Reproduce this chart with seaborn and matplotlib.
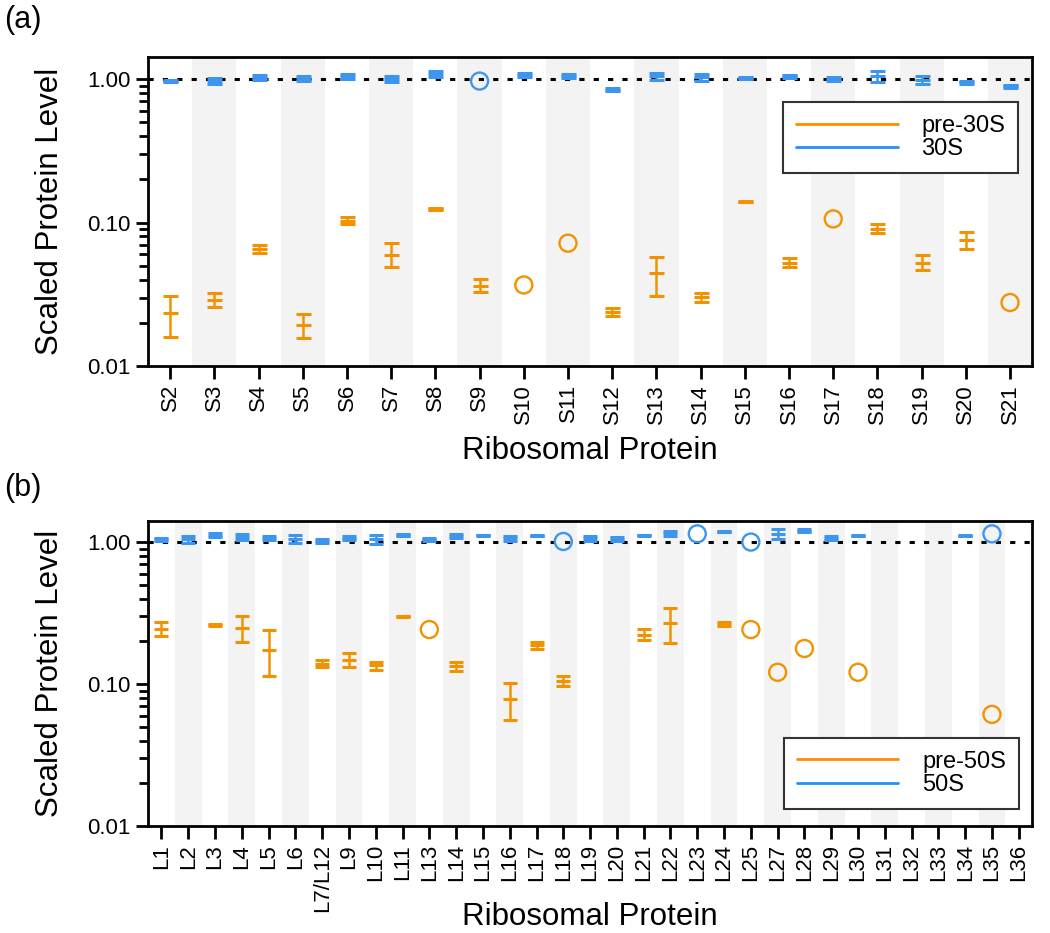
import numpy as np
import matplotlib
matplotlib.use('Agg')
import matplotlib.pyplot as plt
from matplotlib.lines import Line2D
from matplotlib.ticker import FuncFormatter, NullFormatter, FixedLocator
import seaborn as sns

nan = np.nan

## data ##

# (a) small subunit proteins
s_proteins = ['S2', 'S3', 'S4', 'S5', 'S6', 'S7', 'S8', 'S9', 'S10', 'S11',
              'S12', 'S13', 'S14', 'S15', 'S16', 'S17', 'S18', 'S19', 'S20', 'S21']

pre30_mean = [0.0233, 0.0289, 0.0655, 0.0193, 0.103, 0.0595, 0.1245, 0.0363, 0.0367, 0.0718,
              0.0237, 0.0443, 0.0301, 0.140, 0.0526, 0.106, 0.0908, 0.0526, 0.0757, 0.0277]
pre30_lo = [0.0160, 0.0259, 0.0618, 0.0158, 0.098, 0.0488, 0.122, 0.0328, nan, nan,
            0.0223, 0.0308, 0.0281, 0.139, 0.0486, nan, 0.0851, 0.0468, 0.0652, nan]
pre30_hi = [0.0308, 0.0321, 0.0699, 0.0231, 0.109, 0.0725, 0.127, 0.0402, nan, nan,
            0.0253, 0.0579, 0.0321, 0.141, 0.0564, nan, 0.0973, 0.0595, 0.0865, nan]

mat30_mean = [0.968, 0.968, 1.022, 1.005, 1.044, 1.000, 1.089, 0.968, 1.070, 1.044,
              0.843, 1.044, 1.030, 1.016, 1.044, 1.005, 1.044, 0.989, 0.948, 0.889]
mat30_lo = [0.948, 0.923, 0.979, 0.963, 1.000, 0.958, 1.033, nan, 1.040, 1.010,
            0.820, 0.990, 0.975, 1.000, 1.016, 0.970, 0.953, 0.928, 0.920, 0.862]
mat30_hi = [0.989, 1.011, 1.066, 1.055, 1.084, 1.044, 1.143, nan, 1.100, 1.080,
            0.865, 1.100, 1.090, 1.030, 1.070, 1.040, 1.131, 1.044, 0.975, 0.915]

# (b) large subunit proteins
l_proteins = ['L1', 'L2', 'L3', 'L4', 'L5', 'L6', 'L7/L12', 'L9', 'L10', 'L11', 'L13',
              'L14', 'L15', 'L16', 'L17', 'L18', 'L19', 'L20', 'L21', 'L22', 'L23', 'L24',
              'L25', 'L27', 'L28', 'L29', 'L30', 'L31', 'L32', 'L33', 'L34', 'L35', 'L36']

pre50_mean = [0.245, nan, 0.262, 0.249, 0.175, nan, 0.139, 0.147, 0.136, 0.300, 0.242,
              0.134, nan, 0.0786, 0.187, 0.105, nan, nan, 0.223, 0.269, nan, 0.265,
              0.242, 0.121, 0.178, nan, 0.121, nan, nan, nan, nan, 0.0611, nan]
pre50_lo = [0.217, nan, 0.258, 0.199, 0.113, nan, 0.131, 0.131, 0.126, 0.297, nan,
            0.124, nan, 0.0561, 0.176, 0.097, nan, nan, 0.203, 0.195, nan, 0.256,
            nan, nan, nan, nan, nan, nan, nan, nan, nan, nan, nan]
pre50_hi = [0.274, nan, 0.266, 0.303, 0.239, nan, 0.148, 0.165, 0.144, 0.303, nan,
            0.143, nan, 0.101, 0.197, 0.113, nan, nan, 0.245, 0.343, nan, 0.273,
            nan, nan, nan, nan, nan, nan, nan, nan, nan, nan, nan]

mat50_mean = [1.044, 1.044, 1.125, 1.084, 1.066, 1.055, 1.016, 1.072, 1.044, 1.125, 1.044,
              1.107, 1.113, 1.066, 1.107, 1.010, 1.066, 1.055, 1.113, 1.156, 1.143, 1.187,
              1.000, 1.143, 1.206, 1.066, 1.107, nan, nan, nan, 1.107, 1.143, nan]
mat50_lo = [1.020, 0.990, 1.090, 1.030, 1.030, 0.984, 0.980, 1.030, 0.973, 1.110, 1.020,
            1.070, 1.100, 1.020, 1.095, nan, 1.020, 1.020, 1.100, 1.110, nan, 1.175,
            nan, 1.055, 1.170, 1.030, 1.095, nan, nan, nan, 1.095, nan, nan]
mat50_hi = [1.070, 1.100, 1.160, 1.140, 1.100, 1.130, 1.050, 1.110, 1.113, 1.140, 1.070,
            1.140, 1.125, 1.110, 1.120, nan, 1.110, 1.090, 1.125, 1.200, nan, 1.200,
            nan, 1.239, 1.240, 1.100, 1.120, nan, nan, nan, 1.120, nan, nan]

## styling ##

sns.set_style('ticks')
plt.rcParams['font.family'] = ['Liberation Sans', 'DejaVu Sans']
for key in ('text.color', 'axes.labelcolor', 'xtick.color', 'ytick.color'):
    plt.rcParams[key] = 'black'

ORANGE = '#F39200'
BLUE = '#3D95EE'
LEG_ORANGE = '#FF8C00'
LEG_BLUE = '#1E90FF'
BAND = '#F3F3F3'


def draw_panel(ax, names, series, cap, ytop, leg_labels, leg_loc, leg_anchor, xlab_y):
    x = np.arange(len(names))
    for i in range(1, len(names), 2):
        ax.axvspan(i - 0.5, i + 0.5, color=BAND, lw=0, zorder=0)
    ax.axhline(1.0, color='black', lw=2.2, dashes=(1.7, 3.0), zorder=1)

    for mean, lo, hi, col in series:
        mean, lo, hi = np.asarray(mean), np.asarray(lo), np.asarray(hi)
        err = ~np.isnan(lo)
        ax.errorbar(x[err], mean[err], yerr=[mean[err] - lo[err], hi[err] - mean[err]],
                    fmt='_', ms=2 * cap, mew=2.2, color=col, ecolor=col, elinewidth=1.8,
                    capsize=cap, capthick=2.2, zorder=3)
        single = np.isnan(lo) & ~np.isnan(mean)
        sns.scatterplot(x=x[single], y=mean[single], marker='o', s=150,
                        facecolor='none', edgecolor=col, linewidth=1.7, ax=ax, zorder=4)

    ax.set_yscale('log')
    ax.set_ylim(0.01, ytop)
    ax.set_xlim(-0.5, len(names) - 0.5)
    ax.yaxis.set_major_locator(FixedLocator([0.01, 0.1, 1.0]))
    ax.yaxis.set_major_formatter(FuncFormatter(lambda v, p: '%.2f' % v))
    ax.yaxis.set_minor_formatter(NullFormatter())
    ax.set_xticks(x)
    ax.set_xticklabels(names, rotation=90, fontsize=16)
    ax.tick_params(axis='y', which='major', labelsize=16, length=9, width=2, pad=3.5)
    ax.tick_params(axis='y', which='minor', length=6.5, width=2)
    ax.tick_params(axis='x', which='major', length=9, width=2, pad=4)
    ax.tick_params(axis='x', which='minor', bottom=False)
    for sp in ax.spines.values():
        sp.set_linewidth(2)
        sp.set_color('black')

    ax.set_ylabel('Scaled Protein Level', fontsize=22.5)
    ax.yaxis.set_label_coords(-0.094, 0.5)
    ax.set_xlabel('Ribosomal Protein', fontsize=22.5, va='top')
    ax.xaxis.set_label_coords(0.5, xlab_y)

    handles = [Line2D([], [], color=LEG_ORANGE, lw=2), Line2D([], [], color=LEG_BLUE, lw=2)]
    leg = ax.legend(handles, leg_labels, loc=leg_loc, bbox_to_anchor=leg_anchor,
                    borderaxespad=0, frameon=True, fancybox=False, framealpha=1,
                    edgecolor='#333333', fontsize=17, handlelength=4.3,
                    handletextpad=1.0, labelspacing=0.05, borderpad=0.55)
    leg.get_frame().set_linewidth(1.5)


fig = plt.figure(figsize=(10.5, 9.33), dpi=100)
ax_a = fig.add_axes([0.141, 0.6077, 0.842, 0.331])
ax_b = fig.add_axes([0.141, 0.1147, 0.842, 0.327])

draw_panel(ax_a, s_proteins,
           [(pre30_mean, pre30_lo, pre30_hi, ORANGE), (mat30_mean, mat30_lo, mat30_hi, BLUE)],
           5.4, 1.42, ['pre-30S', '30S'], 'upper right', (0.984, 0.854), -0.228)
draw_panel(ax_b, l_proteins,
           [(pre50_mean, pre50_lo, pre50_hi, ORANGE), (mat50_mean, mat50_lo, mat50_hi, BLUE)],
           4.7, 1.41, ['pre-50S', '50S'], 'lower right', (0.985, 0.056), -0.249)

fig.text(0.004, 1 - 20 / 933, '(a)', fontsize=22, ha='left', va='center')
fig.text(0.004, 1 - 488 / 933, '(b)', fontsize=22, ha='left', va='center')

fig.savefig('out.png', dpi=100)
